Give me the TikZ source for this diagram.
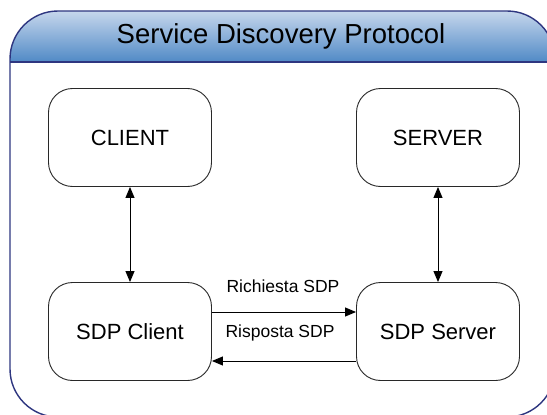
\documentclass[tikz,border=0pt]{standalone}
\usepackage{fontspec}
\setmainfont{Liberation Sans}
\usetikzlibrary{arrows.meta}

\definecolor{frameblue}{RGB}{46,54,128}
\definecolor{headtop}{RGB}{198,214,236}
\definecolor{headbot}{RGB}{80,138,198}
\definecolor{boxline}{RGB}{40,40,40}

\tikzset{
  block/.style={draw=boxline, line width=0.9pt, rounded corners=24pt,
    minimum width=163pt, minimum height=98pt, inner sep=0pt,
    font=\fontsize{22}{26}\selectfont},
  link/.style={draw=black, line width=0.9pt},
  tip/.style={-{Triangle[length=11pt,width=9pt]}},
  both/.style={{Triangle[length=11pt,width=9pt]}-{Triangle[length=11pt,width=9pt]}},
  msg/.style={font=\fontsize{17.5}{21}\selectfont, inner sep=0pt}
}

\begin{document}
\begin{tikzpicture}[x=1pt, y=-1pt]
  \clip (0,0) rectangle (547,415);
  \fill[white] (0,0) rectangle (547,415);

  % title band with gradient, clipped to the rounded frame
  \begin{scope}
    \clip[rounded corners=48pt] (10,11) rectangle (555,417);
    \shade[top color=headtop, bottom color=headbot] (10,11) rectangle (555,62);
  \end{scope}
  % outer frame and band separator
  \draw[frameblue, line width=1.4pt, rounded corners=48pt] (10,11) rectangle (555,417);
  \draw[frameblue, line width=1.4pt] (10,62) -- (555,62);
  \node[font=\fontsize{27.5}{31}\selectfont, inner sep=0pt] (title) at (281,36) {Service Discovery Protocol};

  % blocks
  \node[block] (client) at (130,137.5) {CLIENT};
  \node[block] (server) at (438,137.5) {SERVER};
  \node[block] (sdpc) at (130,331.5) {SDP Client};
  \node[block] (sdps) at (438,331.5) {SDP Server};

  % vertical links
  \draw[link, both] (client) -- (sdpc);
  \draw[link, both] (server) -- (sdps);

  % request / response
  \draw[link, tip] ([yshift=19.5pt]sdpc.east) -- ([yshift=19.5pt]sdps.west);
  \draw[link, tip] ([yshift=-29.5pt]sdps.west) -- ([yshift=-29.5pt]sdpc.east);

  \node[msg] (req) at (283,286) {Richiesta SDP};
  \node[msg] (resp) at (280,333) {Risposta SDP};
\end{tikzpicture}
\end{document}
